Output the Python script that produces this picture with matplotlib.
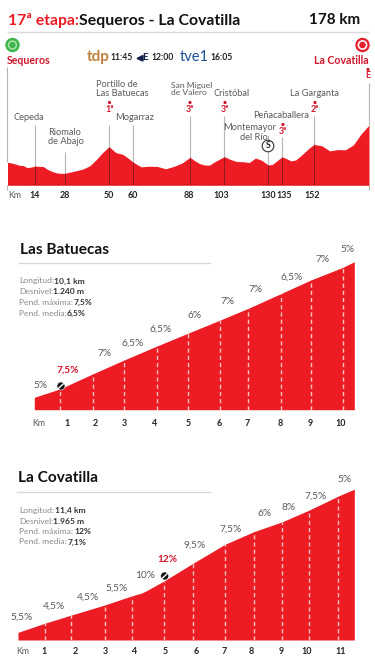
import numpy as np
import matplotlib
matplotlib.use('Agg')
from matplotlib import pyplot as plt
from matplotlib.patches import Circle, Polygon

# stage profile
stage_km = [0, 3, 6.4, 8.9, 10.6, 13.1, 18, 20.3, 23.5, 27.4, 34, 39, 42.2, 45.6, 50, 53.2, 55.3, 58.1, 61.8, 65.9,
            68.3, 73.3, 75.7, 79.8, 83.9, 88, 91.6, 96, 98.9, 103, 109.6, 113.7, 117.8, 122, 125, 129.2, 131.5,
            135.1, 141, 145.5, 151.6, 155.6, 158.8, 162, 164.3, 166.7, 170.6, 173.8, 178]
stage_alt = [998, 972, 912, 912, 834, 903, 886, 799, 729, 703, 781, 851, 972, 1189, 1406, 1232, 1224, 1102, 912, 851,
             903, 886, 825, 886, 972, 1128, 972, 903, 1016, 1146, 1016, 1024, 972, 1111, 1094, 929, 938,
             1146, 1007, 1189, 1466, 1432, 1293, 1302, 1354, 1319, 1449, 1709, 1965]
stage_ticks = [14, 28, 50, 60, 88, 103, 130, 135, 152]

# climbs
bat_km = [0, 1, 2, 3, 4, 5, 6, 7, 8, 9, 10, 10.1]
bat_alt = [562, 604, 679, 749, 818, 882, 948, 1007, 1080, 1149, 1212, 1240]
bat_grades = ['5%', '7,5%', '7%', '6,5%', '6,5%', '6%', '7%', '7%', '6,5%', '7%', '5%']
bat_info = [('Longitud:', '10,1 km'), ('Desnivel:', '1.240 m'), ('Pend. máxima:', '7,5%'), ('Pend. media:', '6,5%')]

cov_km = [0, 1, 2, 3, 4, 4.33, 5, 6, 7, 8, 9, 10, 11, 11.4]
cov_alt = [1196, 1245, 1289, 1343, 1393, 1409, 1473, 1567, 1669, 1737, 1790, 1853, 1928, 1965]
cov_grades = ['5,5%', '4,5%', '4,5%', '5,5%', '10%', '12%', '9,5%', '7,5%', '6%', '8%', '7,5%', '5%']
cov_info = [('Longitud:', '11,4 km'), ('Desnivel:', '1.965 m'), ('Pend. máxima:', '12%'), ('Pend. media:', '7,1%')]

# where things sit on the page, in pixels
stage_knots_km = [0, 14, 28, 50, 60, 88, 103, 130, 135, 152, 178]
stage_knots_px = [7.5, 35, 64.5, 109, 133, 190, 224.3, 268, 282, 314, 369]
bat_knots_px = [34.3, 60, 92.7, 124.3, 156.7, 187.7, 220, 248.3, 280.7, 311, 343, 354.3]
cov_knots_km = [0, 1, 2, 3, 4, 5, 6, 7, 8, 9, 10, 11, 11.4]
cov_knots_px = [18, 44.7, 71.3, 104.7, 132.3, 164.3, 193, 225, 254, 282.3, 309.3, 338.3, 354.3]

RED = '#ED1C24'
LABEL_RED = '#D2152B'
GREY = '#5a5a5a'
DARK = '#222222'
RULE = '#d9d9d9'
SANS = 'Lato'

W, H = 375, 663
fig = plt.figure(figsize=(W / 100, H / 100), dpi=100)
page = fig.add_axes([0, 0, 1, 1], zorder=5)
page.set_xlim(0, W)
page.set_ylim(H, 0)
page.axis('off')


def label(x, y, s, size=6.7, color=GREY, weight='normal', ha='center', family=SANS, **kw):
    return page.text(x, y, s, fontsize=size, color=color, fontweight=weight, ha=ha, va='center', family=family, **kw)


def profile_axes(knots_km, knots_px, top_px, base_px, base_alt, m_per_px):
    ax = fig.add_axes([knots_px[0] / W, 1 - base_px / H, (knots_px[-1] - knots_px[0]) / W, (base_px - top_px) / H])
    ax.set_xscale('function', functions=(lambda k: np.interp(k, knots_km, knots_px),
                                         lambda p: np.interp(p, knots_px, knots_km)))
    ax.set_xlim(knots_km[0], knots_km[-1])
    ax.set_ylim(base_alt, base_alt + (base_px - top_px) * m_per_px)
    ax.axis('off')
    return ax


def fine_grid(knots_km):
    # keeps straight runs straight on the piecewise km scale
    return np.unique(np.concatenate([np.linspace(a, b, 8) for a, b in zip(knots_km[:-1], knots_km[1:])]))


# ---- header ----
label(8, 20.5, '17ª etapa:', 11.3, RED, 'bold', 'left')
label(79, 20.5, 'Sequeros - La Covatilla', 11.4, '#111111', 'bold', 'left')
label(360.5, 20.5, '178 km', 11, '#111111', 'bold', 'right')
page.plot([8, 368], [31.5, 31.5], color=RULE, lw=1)

page.add_patch(Circle((12.5, 45), 6.5, color='#3FB54A'))
page.add_patch(Circle((12.5, 45), 4, color='#a8e0ad'))
page.add_patch(Circle((12.5, 45), 2.4, color='#3FB54A'))
page.add_patch(Circle((362.5, 45), 6.5, color='#E5202E'))
page.add_patch(Circle((362.5, 45), 4.2, color='white'))
page.add_patch(Circle((362.5, 45), 2.6, color='#E5202E'))

label(7, 61, 'Sequeros', 7.6, LABEL_RED, 'bold', 'left')
label(369, 61, 'La Covatilla', 7.6, LABEL_RED, 'bold', 'right')

label(98.5, 57, 'tdp', 11, '#C0803C', 'bold')
label(121.5, 57.5, '11:45', 6.2, DARK, 'bold')
page.add_patch(Polygon([[137, 58.5], [143, 55.5], [143, 61]], color='#14204a'))
label(145.5, 57.5, 'E', 7, '#14204a', 'bold')
label(163, 57.5, '12:00', 6.2, DARK, 'bold')
label(194, 57, 'tve1', 10.5, '#1d4f91', 'normal')
label(221.5, 57.5, '16:05', 6.2, DARK, 'bold')

# ---- stage profile ----
ax = profile_axes(stage_knots_km, stage_knots_px, 60, 185.3, 400, 26)
grid = fine_grid(stage_knots_km)
ax.fill_between(grid, 400, np.interp(grid, stage_km, stage_alt), color=RED, lw=0)
ax.plot(stage_knots_km[:1] + stage_knots_km[-1:], [400, 400], color='#3a1a1a', lw=0.9, solid_capstyle='butt')


def to_alt(px):
    return 400 + (185.3 - px) * 26


line_kms = [0, 14, 28, 50, 60, 88, 103, 130, 135, 152, 178]
line_tops = [67, 125, 152, 125, 125, 116, 116, 152, 137, 116, 83]
for k, top in zip(line_kms, line_tops):
    a = np.interp(k, stage_km, stage_alt)
    ax.vlines(k, a, to_alt(top), color='#b5b5b5', lw=0.8, clip_on=False)
    ax.vlines(k, 400, a, color='#8c1a20', lw=0.7)
ax.vlines([0, 178], to_alt(190), 400, color='#b5b5b5', lw=0.8, clip_on=False)
ax.vlines(130, to_alt(135), to_alt(140), color='#b5b5b5', lw=0.8, clip_on=False)

label(29, 118, 'Cepeda')
label(48, 137, 'Riomalo\nde Abajo', ha='left', linespacing=1.05)
label(95.6, 89, 'Portillo de\nLas Batuecas', ha='left', linespacing=1.05)
label(134.7, 118, 'Mogarraz')
label(171, 89, 'San Miguel\nde Valero', 6.1, ha='left', linespacing=1.15)
label(231.5, 94, 'Cristóbal')
label(315, 94, 'La Garganta')
label(280.7, 116, 'Peñacaballera')
label(250, 127, 'Montemayor')
label(254, 137, 'del Río')

for x, y, cat in [(109.5, 109, '1ª'), (190, 109, '3ª'), (225, 109, '3ª'), (315, 109, '2ª'), (283, 131, '3ª'), (368, 76, 'E')]:
    label(x, y, cat, 6.4, LABEL_RED, 'bold')
    page.add_patch(Circle((x, y - 6.5), 0.9, color=LABEL_RED))

page.add_patch(Circle((268, 146), 5.8, facecolor='white', edgecolor='#333333', lw=0.8))
label(268, 146, 'S', 6.4, DARK, 'bold')

label(15, 196, 'Km', 6.4, GREY)
tick_px = [35, 64.5, 109, 132.5, 189, 221.7, 268, 284, 311.7]
for t, x in zip(stage_ticks, tick_px):
    label(x, 196, str(t), 6.4, DARK, 'bold')


# ---- climbs ----
def climb(name, km, alt, grades, info, knots_km, knots_px, base_px, base_alt, m_per_px, title_x, title_y, rule_y,
          info_ys, value_xs, grade_pos, steep, marker, km_px, km_y, km_x):
    a = profile_axes(knots_km, knots_px, base_px - 175, base_px, base_alt, m_per_px)
    g = fine_grid(knots_km)
    a.fill_between(g, base_alt, np.interp(g, km, alt), color=RED, lw=0)
    marks = [k for k in range(1, len(km_px) + 1)]
    a.vlines(marks, base_alt, np.interp(marks, km, alt), color='#f9c4c4', lw=1, linestyles=(0, (3, 2.2)))

    label(title_x, title_y, name, 11.1, '#111111', 'bold', 'left')
    page.plot([title_x - 1, 210], [rule_y, rule_y], color=RULE, lw=1)

    for (k, v), y, vx in zip(info, info_ys, value_xs):
        label(19, y, k, 6.1, '#8a8a8a', ha='left')
        label(vx, y, v, 6.1, '#333333', 'bold', 'left')

    for i, (s, (x, y)) in enumerate(zip(grades, grade_pos)):
        if i == steep:
            label(x, y, s, 7.3, LABEL_RED, 'bold')
        else:
            label(x, y, s, 7.3, GREY)

    page.add_patch(Circle(marker, 4, facecolor='#111111', edgecolor='white', lw=0.4, zorder=6))
    page.plot([marker[0] - 2.4, marker[0] + 2.4], [marker[1] + 2.2, marker[1] - 2.2], color='white', lw=1, zorder=7)

    label(km_x, km_y, 'Km', 6.4, GREY)
    for i, x in enumerate(km_px):
        label(x, km_y, str(i + 1), 6.4, DARK, 'bold')


climb('Las Batuecas', bat_km, bat_alt, bat_grades, bat_info, bat_km, bat_knots_px, 409.7, 500, 5,
      19.5, 250, 263, [281, 292, 302.5, 313], [54.3, 53, 74, 67],
      [(41, 385), (68, 370), (105, 353), (133, 343), (161, 329), (195, 315), (228, 302), (256, 290), (292, 277),
       (323, 259), (348, 250)],
      1, (61, 386), [67, 95, 124.7, 155, 188, 219, 247.5, 280.5, 310, 340.5], 424, 39)

climb('La Covatilla', cov_km, cov_alt, cov_grades, cov_info, cov_knots_km, cov_knots_px, 640, 1155, 5.37,
      18, 478, 491.7, [510.5, 521, 531.5, 542], [54.7, 53.3, 74.3, 67.3],
      [(21.7, 616.7), (54, 605.7), (88, 596.7), (117, 587.7), (145, 576), (167, 559), (195, 545), (231, 528.7),
       (265, 514), (288.7, 507.7), (316, 495.7), (345, 479)],
      5, (164.7, 576), [43.7, 75, 105, 135, 165.7, 196.3, 224.3, 251, 281, 307, 341], 651.7, 23)

plt.savefig('out.png', dpi=100)
